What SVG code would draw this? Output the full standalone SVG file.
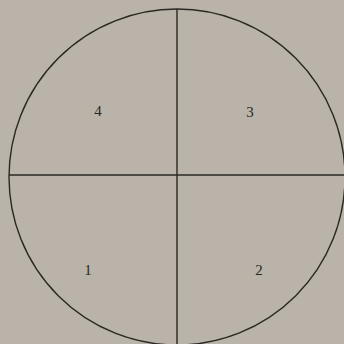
<svg xmlns="http://www.w3.org/2000/svg" width="344" height="344" viewBox="0 0 344 344">
<style>
.ln{stroke:#2b2723;stroke-width:1.4;fill:none}
.lb{font-family:"Liberation Serif",serif;font-size:15px;fill:#2b2723;text-anchor:middle}
</style>
<rect width="344" height="344" fill="#b9b3a9"/>
<g id="circle"><circle class="ln" cx="177" cy="177" r="168"/></g>
<g id="connectors">
<line class="ln" x1="177" y1="9" x2="177" y2="344"/>
<line class="ln" x1="9" y1="175" x2="344" y2="175"/>
</g>
<g id="q4"><text class="lb" x="98" y="116">4</text></g>
<g id="q3"><text class="lb" x="250" y="117">3</text></g>
<g id="q1"><text class="lb" x="88" y="275">1</text></g>
<g id="q2"><text class="lb" x="259" y="275">2</text></g>
</svg>
